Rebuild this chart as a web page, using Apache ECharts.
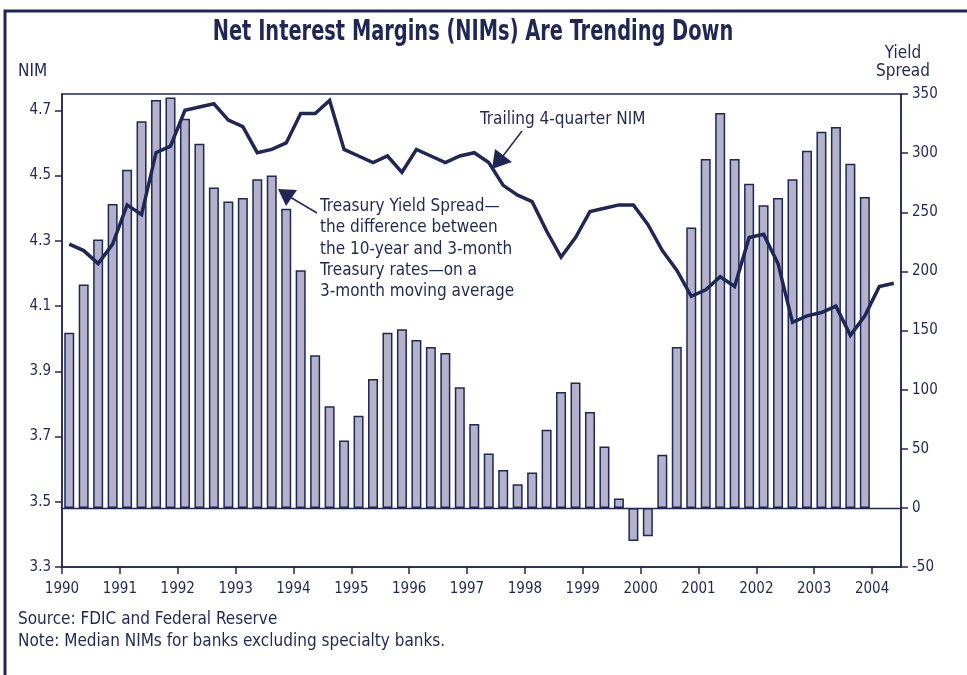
<!DOCTYPE html>
<html lang="en">
<head>
<meta charset="utf-8">
<title>Net Interest Margins (NIMs) Are Trending Down</title>
<script src="https://cdn.jsdelivr.net/npm/echarts@6/dist/echarts.min.js"></script>
<style>
  html, body { margin: 0; padding: 0; background: #fff; }
  #chart { width: 967px; height: 675px; }
</style>
</head>
<body>
<div id="chart"></div>
<script>
// quarterly data, 1990Q1 onwards
var years = [1990, 1991, 1992, 1993, 1994, 1995, 1996, 1997, 1998, 1999, 2000, 2001, 2002, 2003, 2004];
var nimTicks = [3.3, 3.5, 3.7, 3.9, 4.1, 4.3, 4.5, 4.7];

// treasury yield spread, basis points (bars, right axis), 1990Q1 - 2003Q4
var spreadValues = [148, 189, 227, 257, 286, 327, 345, 347, 329, 308, 271, 259, 262, 278,
  281, 253, 201, 129, 86, 57, 78, 109, 148, 151, 142, 136, 131, 102, 71, 46, 32, 20, 30,
  66, 98, 106, 81, 52, 8, -28, -24, 45, 136, 237, 295, 334, 295, 274, 256, 262, 278, 302,
  318, 322, 291, 263];

// trailing 4-quarter NIM, percent (line, left axis), 1990Q1 - 2004Q2
var nimValues = [4.29, 4.27, 4.23, 4.29, 4.41, 4.38, 4.57, 4.59, 4.70, 4.71, 4.72, 4.67,
  4.65, 4.57, 4.58, 4.60, 4.69, 4.69, 4.73, 4.58, 4.56, 4.54, 4.56, 4.51, 4.58, 4.56, 4.54,
  4.56, 4.57, 4.54, 4.47, 4.44, 4.42, 4.33, 4.25, 4.31, 4.39, 4.40, 4.41, 4.41, 4.35, 4.27,
  4.21, 4.13, 4.15, 4.19, 4.16, 4.31, 4.32, 4.23, 4.05, 4.07, 4.08, 4.10, 4.01, 4.07, 4.16,
  4.17];

var navy = '#1f2759';
var barFill = '#b4b1ca';
var font = "'Liberation Sans Narrow', 'Arial Narrow', 'DejaVu Sans Condensed', sans-serif";

// middle of quarter i on a year scale
function quarterPos(i) {
  return years[0] + (i + 0.5) / 4;
}

var spreadData = spreadValues.map(function (v, i) { return [quarterPos(i), v]; });
var nimData = nimValues.map(function (v, i) { return [quarterPos(i), v]; });

var chart = echarts.init(document.getElementById('chart'));

var option = {
  animation: false,
  textStyle: { fontFamily: font, color: navy },
  grid: {
    left: 62, right: 66, top: 94, bottom: 108,
    show: true, borderColor: navy, borderWidth: 1.5
  },
  xAxis: {
    type: 'value',
    min: 1990,
    max: 2004.5,
    splitLine: { show: false },
    axisLine: { onZero: false, lineStyle: { color: navy, width: 1.5 } },
    axisTick: { customValues: years, length: 7, lineStyle: { color: navy, width: 1.5 } },
    axisLabel: {
      customValues: years, margin: 15, fontSize: 15, color: navy, fontFamily: font,
      formatter: function (v) { return String(v); }
    }
  },
  yAxis: [{
    type: 'value',
    position: 'left',
    min: 3.3,
    max: 4.75,
    splitLine: { show: false },
    axisLine: { show: true, onZero: false, lineStyle: { color: navy, width: 1.5 } },
    axisTick: { show: true, customValues: nimTicks, length: 7, lineStyle: { color: navy, width: 1.5 } },
    axisLabel: {
      customValues: nimTicks, margin: 11, fontSize: 15, color: navy, fontFamily: font,
      formatter: function (v) { return v.toFixed(1); }
    }
  }, {
    type: 'value',
    position: 'right',
    min: -50,
    max: 350,
    interval: 50,
    splitLine: { show: false },
    axisLine: { show: true, onZero: false, lineStyle: { color: navy, width: 1.5 } },
    axisTick: { show: true, length: 7, lineStyle: { color: navy, width: 1.5 } },
    axisLabel: { margin: 11, fontSize: 15, color: navy, fontFamily: font }
  }],
  series: [{
    name: 'Treasury Yield Spread',
    type: 'bar',
    yAxisIndex: 1,
    data: spreadData,
    barWidth: 10,
    itemStyle: { color: barFill, borderColor: navy, borderWidth: 1.5 },
    markLine: {
      silent: true,
      symbol: 'none',
      label: { show: false },
      lineStyle: { color: navy, width: 1.3, type: 'solid' },
      data: [{ yAxis: 0 }]
    }
  }, {
    name: 'Trailing 4-quarter NIM',
    type: 'line',
    yAxisIndex: 0,
    data: nimData,
    symbol: 'none',
    z: 5,
    lineStyle: { color: navy, width: 3.5, join: 'miter' }
  }],
  graphic: [
    // outer frame
    { type: 'polyline', shape: { points: [[5, 675], [5, 11], [967, 11]] },
      style: { stroke: navy, lineWidth: 3, fill: null } },
    { type: 'text', x: 473, y: 33, scaleX: 0.77,
      style: { text: 'Net Interest Margins (NIMs) Are Trending Down', fontSize: 28, fontWeight: 'bold',
        fontFamily: font, fill: navy, align: 'center', verticalAlign: 'middle' } },
    { type: 'text', x: 18, y: 72,
      style: { text: 'NIM', fontSize: 17, fontFamily: font, fill: navy, align: 'left', verticalAlign: 'middle' } },
    { type: 'text', x: 903, y: 45,
      style: { text: 'Yield\nSpread', fontSize: 17, lineHeight: 18, fontFamily: font, fill: navy,
        align: 'center', verticalAlign: 'top' } },
    { type: 'text', x: 480, y: 120,
      style: { text: 'Trailing 4-quarter NIM', fontSize: 17, fontFamily: font, fill: navy,
        align: 'left', verticalAlign: 'middle' } },
    { type: 'line', shape: { x1: 522, y1: 131, x2: 503, y2: 156 },
      style: { stroke: navy, lineWidth: 1.5 } },
    { type: 'polygon', shape: { points: [[492, 169], [495, 149], [512, 162]] },
      style: { fill: navy } },
    { type: 'text', x: 320, y: 196,
      style: { text: 'Treasury Yield Spread\u2014\nthe difference between\nthe 10-year and 3-month\nTreasury rates\u2014on a\n3-month moving average',
        fontSize: 17, lineHeight: 21.3, fontFamily: font, fill: navy, align: 'left', verticalAlign: 'top' } },
    { type: 'line', shape: { x1: 317, y1: 213, x2: 290, y2: 197 },
      style: { stroke: navy, lineWidth: 1.5 } },
    { type: 'polygon', shape: { points: [[278, 189], [297, 190], [286, 206]] },
      style: { fill: navy } },
    { type: 'text', x: 18, y: 620,
      style: { text: 'Source: FDIC and Federal Reserve', fontSize: 17, fontFamily: font, fill: navy,
        align: 'left', verticalAlign: 'middle' } },
    { type: 'text', x: 18, y: 642,
      style: { text: 'Note: Median NIMs for banks excluding specialty banks.', fontSize: 17, fontFamily: font,
        fill: navy, align: 'left', verticalAlign: 'middle' } }
  ]
};

chart.setOption(option);
</script>
</body>
</html>
